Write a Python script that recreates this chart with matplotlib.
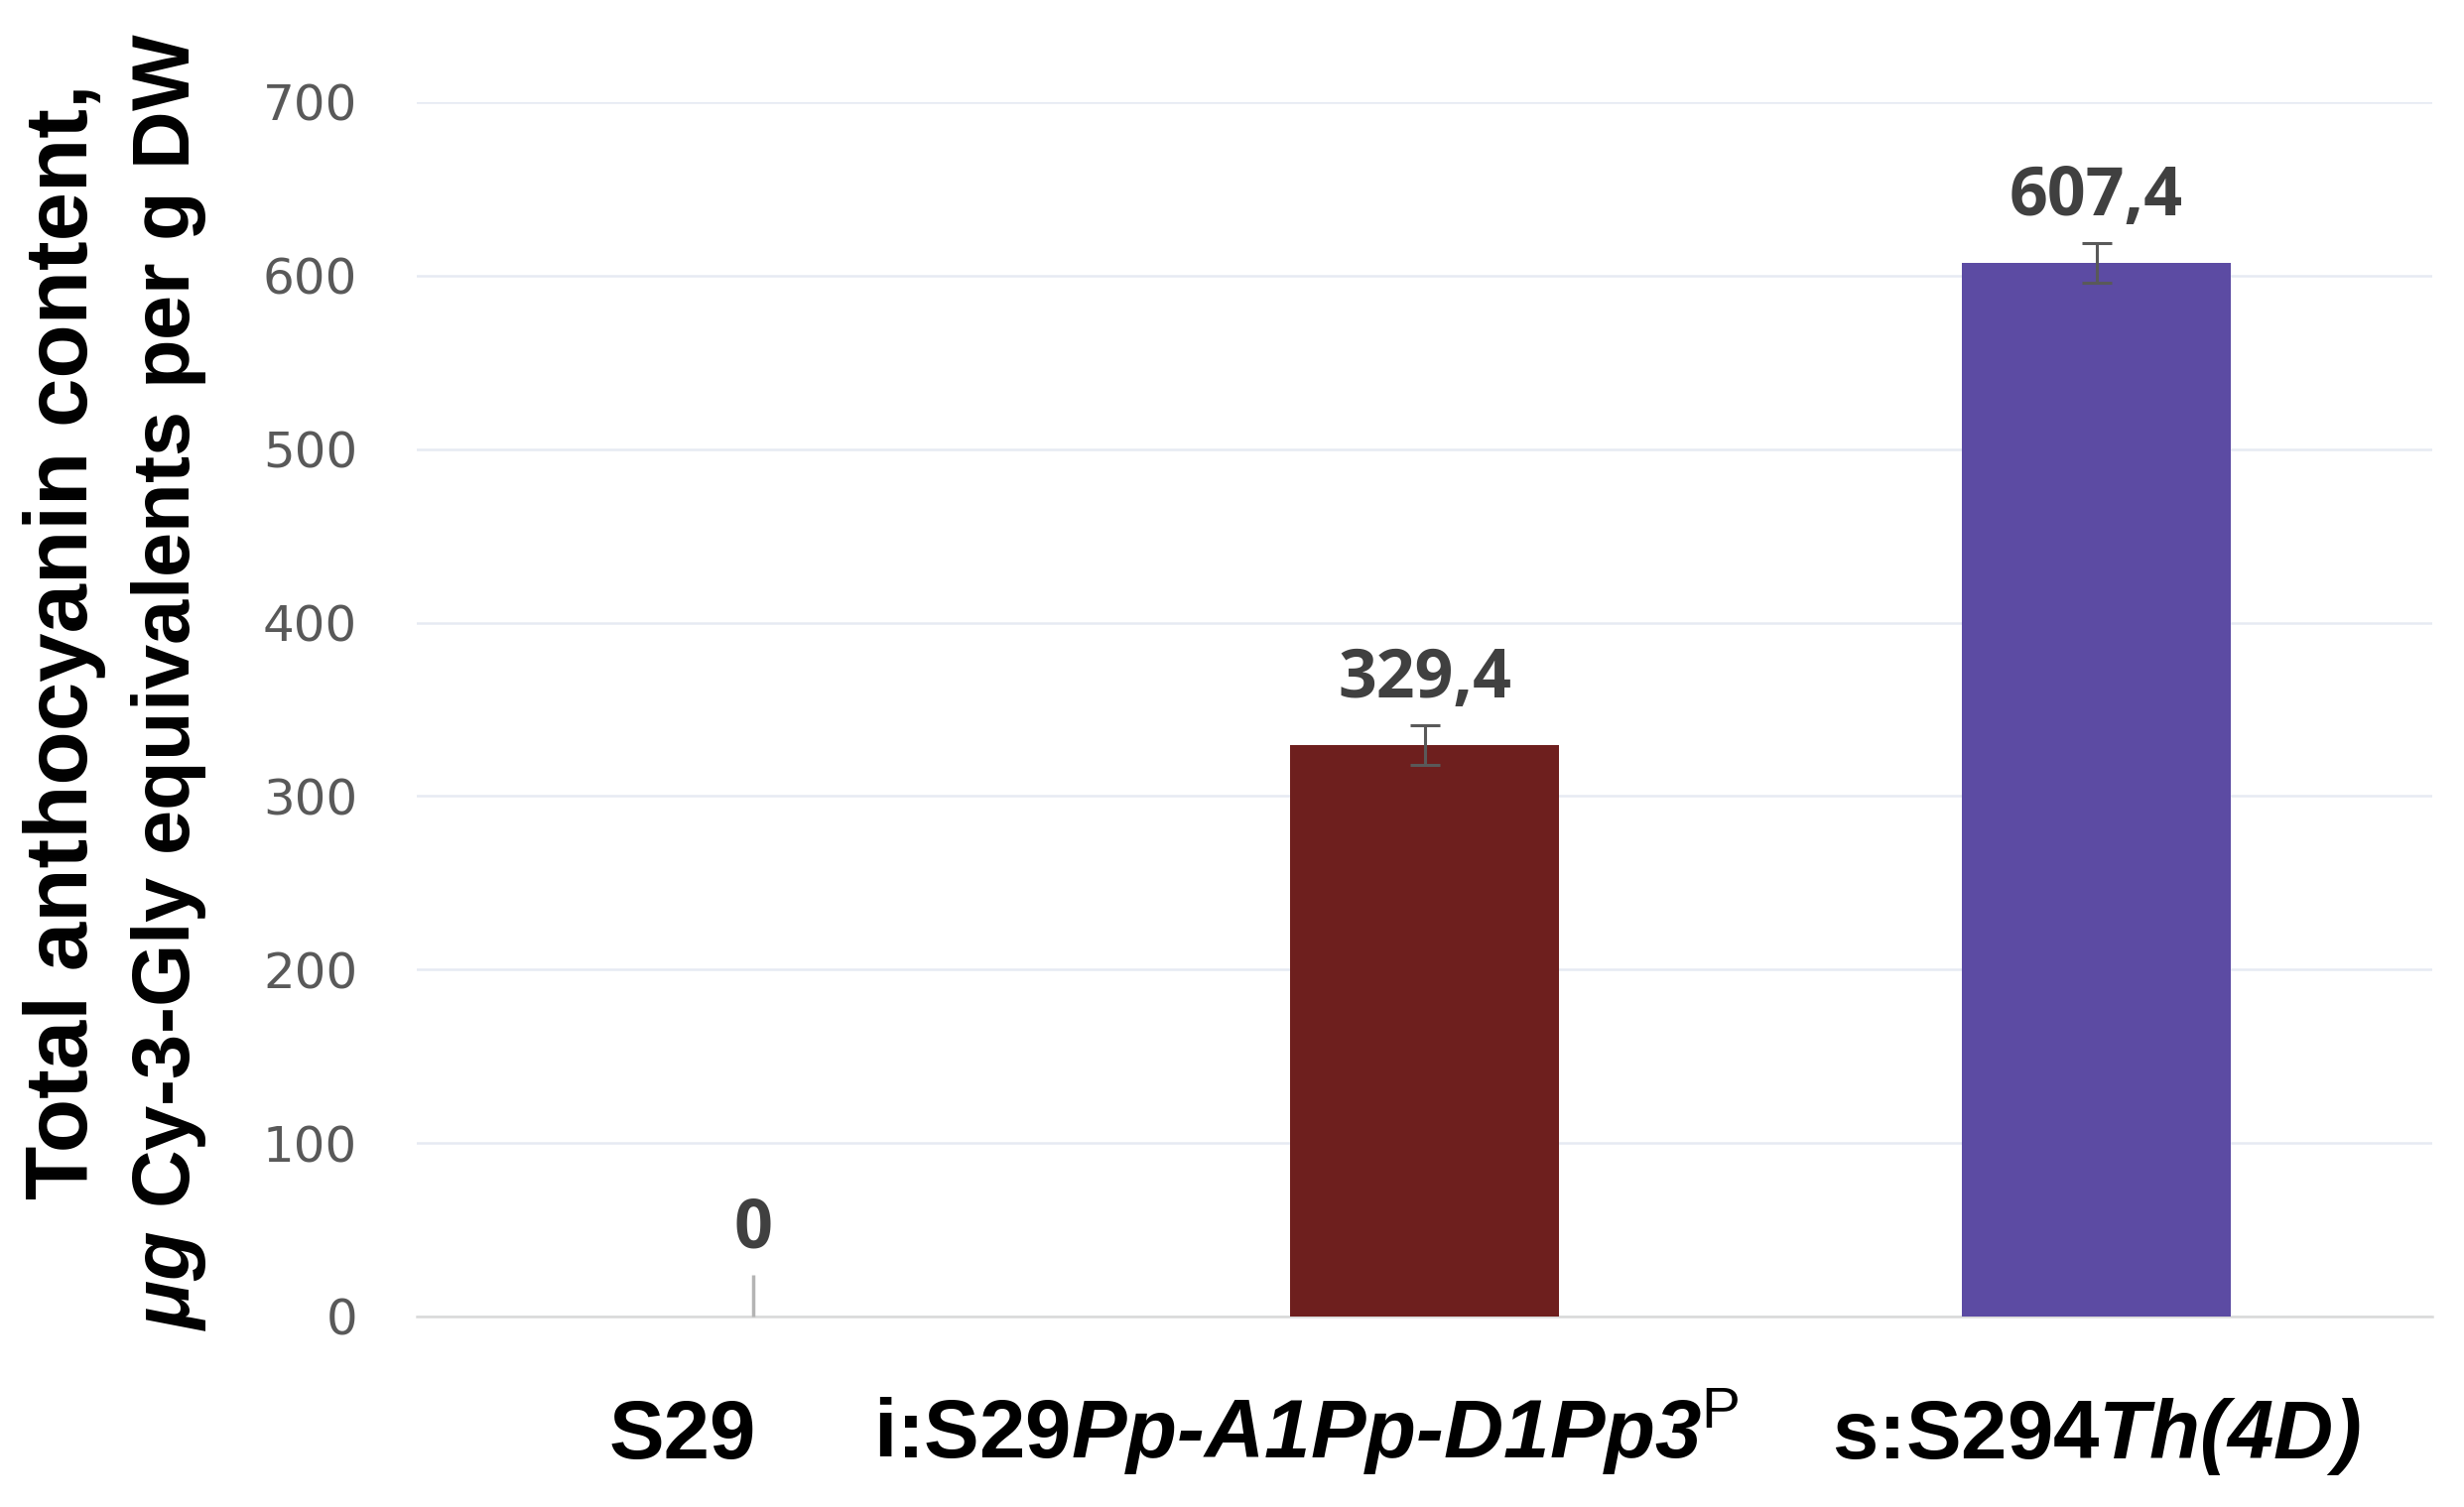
import matplotlib
matplotlib.use("Agg")
import matplotlib.pyplot as plt
from matplotlib.transforms import blended_transform_factory

# ---- data ----
categories = ["S29",
              "i:S29$\\mathbf{Pp\u2010A1Pp\u2010D1Pp3}^{\\mathsf{P}}$",
              r"s:S294$\mathbf{Th(4D)}$"]
values = [0.0, 329.4, 607.4]
value_labels = ["0", "329,4", "607,4"]
err_low = [0.0, 11.4, 11.4]
err_high = [24.0, 11.4, 11.4]
yticks = [0, 100, 200, 300, 400, 500, 600, 700]
ylabel_line1 = "Total anthocyanin content,"
ylabel_line2 = r"$\mathbf{\mu g}$ Cy-3-Gly equivalents per g DW"

bar_colors = ["#6E1F1E", "#6E1F1E", "#5C4BA3"]

plt.rcParams["mathtext.fontset"] = "custom"
plt.rcParams["mathtext.rm"] = "Liberation Sans:bold"
plt.rcParams["mathtext.bf"] = "Liberation Sans:italic:bold"
plt.rcParams["mathtext.it"] = "Liberation Sans:italic:bold"
plt.rcParams["mathtext.sf"] = "Liberation Sans"

fig = plt.figure(figsize=(24.83, 15.19), dpi=100)
W, H = 2483, 1519
ax = fig.add_axes([420 / W, (H - 1327) / H, (2451 - 420) / W, (1327 - 103) / H])

x = list(range(len(categories)))
ax.bar(x, values, width=0.4, color=bar_colors, zorder=3)

# error bars
ax.errorbar([x[0]], [values[0]], yerr=[[err_low[0]], [err_high[0]]], fmt="none",
            ecolor="#b4b4b4", elinewidth=2.5, capsize=0, zorder=4, clip_on=False)
ax.errorbar(x[1:], values[1:], yerr=[err_low[1:], err_high[1:]], fmt="none",
            ecolor="#595959", elinewidth=2.2, capsize=10.5, capthick=2.2, zorder=4)

# value labels
for xi, v, eh, lab in zip(x, values, err_high, value_labels):
    ax.annotate(lab, (xi, v + eh), xytext=(0, 20), textcoords="offset points",
                ha="center", va="baseline", fontsize=49, fontweight="bold",
                color="#404040", family="Open Sans", zorder=5)

ax.set_xlim(-0.5, 2.5)
ax.set_ylim(0, 700)
ax.set_yticks(yticks)
ax.set_yticklabels([str(t) for t in yticks], fontsize=36, color="#595959",
                   family="DejaVu Sans")
ax.tick_params(axis="y", length=0, pad=43)
ax.set_xticks([])
ax.grid(axis="y", color="#e6eaf3", linewidth=1.8, zorder=0)
ax.set_axisbelow(True)
for s in ["top", "right", "left"]:
    ax.spines[s].set_visible(False)
ax.spines["bottom"].set_color("#d9d9d9")
ax.spines["bottom"].set_linewidth(1.8)
ax.spines["bottom"].set_zorder(1)

# category labels (placed as in the reference)
label_x = [-0.105, 0.824, 2.0]
trans = blended_transform_factory(ax.transData, fig.transFigure)
for lx, cat in zip(label_x, categories):
    ax.text(lx, (H - 1470) / H, cat, transform=trans, ha="center", va="baseline",
            fontsize=60, fontweight="bold", family="Liberation Sans",
            color="black", clip_on=False)

# y-axis label (two lines)
fig.text(65 / W, 1 - 647 / H, ylabel_line1, rotation=90, ha="center", va="center",
         fontsize=64, fontweight="bold", family="Liberation Sans", color="black")
fig.text(170 / W, 1 - 687 / H, ylabel_line2, rotation=90, ha="center", va="center",
         fontsize=58.5, fontweight="bold", family="Liberation Sans", color="black")

fig.savefig("out.png", dpi=100, facecolor="white")
